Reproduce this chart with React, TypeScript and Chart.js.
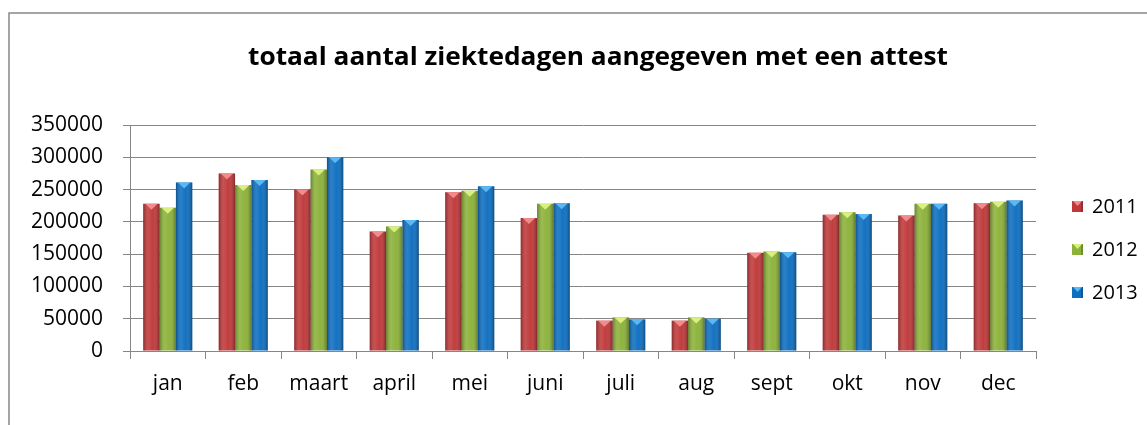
import React, { useEffect, useRef } from "react";
import { Chart, registerables } from "chart.js";

Chart.register(...registerables);

const TITLE = "totaal aantal ziektedagen aangegeven met een attest";
const MONTHS = ["jan", "feb", "maart", "april", "mei", "juni", "juli", "aug", "sept", "okt", "nov", "dec"];
const SERIES_NAMES = ["2011", "2012", "2013"];
const VALUES_2011 = [228000, 275000, 250000, 185000, 246000, 206000, 47000, 47000, 152000, 211000, 210000, 229000];
const VALUES_2012 = [222000, 257000, 281000, 193000, 248000, 228000, 52000, 52000, 154000, 215000, 228000, 231000];
const VALUES_2013 = [261000, 265000, 300000, 203000, 255000, 229000, 49000, 50000, 153000, 212000, 228000, 233000];
const Y_TICKS = [0, 50000, 100000, 150000, 200000, 250000, 300000, 350000];

const COLORS = ["#C0393A", "#8CB23A", "#0E6FC1"];
const TOP_COLORS = ["#F28C8C", "#D9F07E", "#5BB8F2"];
const FONT = "'Open Sans', sans-serif";

const bevelPlugin = {
  id: "bevel",
  afterDatasetsDraw(chart: any) {
    const ctx = chart.ctx;
    chart.data.datasets.forEach((ds: any, i: number) => {
      const meta = chart.getDatasetMeta(i);
      meta.data.forEach((bar: any) => {
        const p = bar.getProps(["x", "y", "base", "width"], true);
        const left = p.x - p.width / 2;
        const right = p.x + p.width / 2;
        const g = ctx.createLinearGradient(left, 0, right, 0);
        g.addColorStop(0, "rgba(0,0,0,0.28)");
        g.addColorStop(0.3, "rgba(255,255,255,0.12)");
        g.addColorStop(0.6, "rgba(255,255,255,0.02)");
        g.addColorStop(1, "rgba(0,0,0,0.32)");
        ctx.save();
        ctx.fillStyle = g;
        ctx.fillRect(left, p.y, p.width, p.base - p.y);
        ctx.beginPath();
        ctx.moveTo(left + 2, p.y);
        ctx.lineTo(right - 2, p.y);
        ctx.lineTo(p.x, p.y + 6);
        ctx.closePath();
        ctx.fillStyle = TOP_COLORS[i];
        ctx.fill();
        ctx.restore();
      });
    });
  },
};

const decorPlugin = {
  id: "decor",
  beforeDraw(chart: any) {
    const ctx = chart.ctx;
    ctx.save();
    ctx.fillStyle = "#ffffff";
    ctx.fillRect(0, 0, chart.width, chart.height);
    ctx.strokeStyle = "#888888";
    ctx.lineWidth = 1.5;
    ctx.strokeRect(9, 13, chart.width + 20, chart.height + 20);
    ctx.restore();
  },
  afterDraw(chart: any) {
    const ctx = chart.ctx;
    ctx.save();
    ctx.fillStyle = "#000000";
    ctx.font = `bold 25px ${FONT}`;
    ctx.textAlign = "center";
    ctx.textBaseline = "alphabetic";
    const w = ctx.measureText(TITLE).width;
    const sx = 700 / w;
    ctx.translate(598, 65);
    ctx.scale(sx, 1);
    ctx.fillText(TITLE, 0, 0);
    ctx.restore();
    ctx.save();
    const centers = [207, 250, 293];
    chart.data.datasets.forEach((ds: any, i: number) => {
      const cy = centers[i];
      const x0 = 1072;
      ctx.fillStyle = COLORS[i];
      ctx.fillRect(x0, cy - 6, 11, 11);
      ctx.fillStyle = "rgba(0,0,0,0.2)";
      ctx.fillRect(x0 + 9, cy - 6, 2, 11);
      ctx.beginPath();
      ctx.moveTo(x0 + 1, cy - 6);
      ctx.lineTo(x0 + 10, cy - 6);
      ctx.lineTo(x0 + 5.5, cy - 1);
      ctx.closePath();
      ctx.fillStyle = TOP_COLORS[i];
      ctx.fill();
      ctx.fillStyle = "#000000";
      ctx.font = `20px ${FONT}`;
      ctx.textAlign = "left";
      ctx.textBaseline = "middle";
      ctx.fillText(ds.label, 1092, cy);
    });
    ctx.restore();
  },
};

export default function App() {
  const ref = useRef<HTMLCanvasElement | null>(null);
  useEffect(() => {
    document.body.style.margin = "0";
    const canvas = ref.current;
    if (!canvas) return;
    const seriesValues = [VALUES_2011, VALUES_2012, VALUES_2013];
    const chart = new Chart(canvas, {
      type: "bar",
      data: {
        labels: MONTHS,
        datasets: SERIES_NAMES.map((name, i) => ({
          label: name,
          data: seriesValues[i],
          backgroundColor: COLORS[i],
          borderWidth: 0,
          categoryPercentage: 0.65,
          barPercentage: 1.0,
        })),
      },
      options: {
        responsive: false,
        animation: false,
        layout: { padding: { top: 125, left: 0, right: 111, bottom: 14 } },
        plugins: {
          legend: { display: false },
          title: { display: false },
          tooltip: { enabled: false },
        },
        scales: {
          x: {
            offset: true,
            grid: {
              display: true,
              drawOnChartArea: false,
              drawTicks: true,
              tickLength: 8,
              offset: true,
              color: "#868686",
            },
            border: { display: true, color: "#868686", width: 1 },
            ticks: {
              color: "#000000",
              font: { family: FONT, size: 21 },
              padding: 12,
              maxRotation: 0,
              autoSkip: false,
            },
            afterFit: (s: any) => {
              s.height = 60;
            },
          },
          y: {
            min: 0,
            max: 350000,
            afterBuildTicks: (s: any) => {
              s.ticks = Y_TICKS.map((v) => ({ value: v }));
            },
            grid: {
              color: "#868686",
              lineWidth: 1,
              tickLength: 7,
              drawTicks: true,
            },
            border: { display: true, color: "#868686", width: 1 },
            ticks: {
              color: "#000000",
              font: { family: FONT, size: 21 },
              padding: 20,
              callback: (v: any) => String(v),
            },
            afterFit: (s: any) => {
              s.width = 130;
            },
          },
        },
      },
      plugins: [decorPlugin, bevelPlugin],
    });
    return () => chart.destroy();
  }, []);
  return <canvas ref={ref} width={1147} height={425} style={{ display: "block" }} />;
}
